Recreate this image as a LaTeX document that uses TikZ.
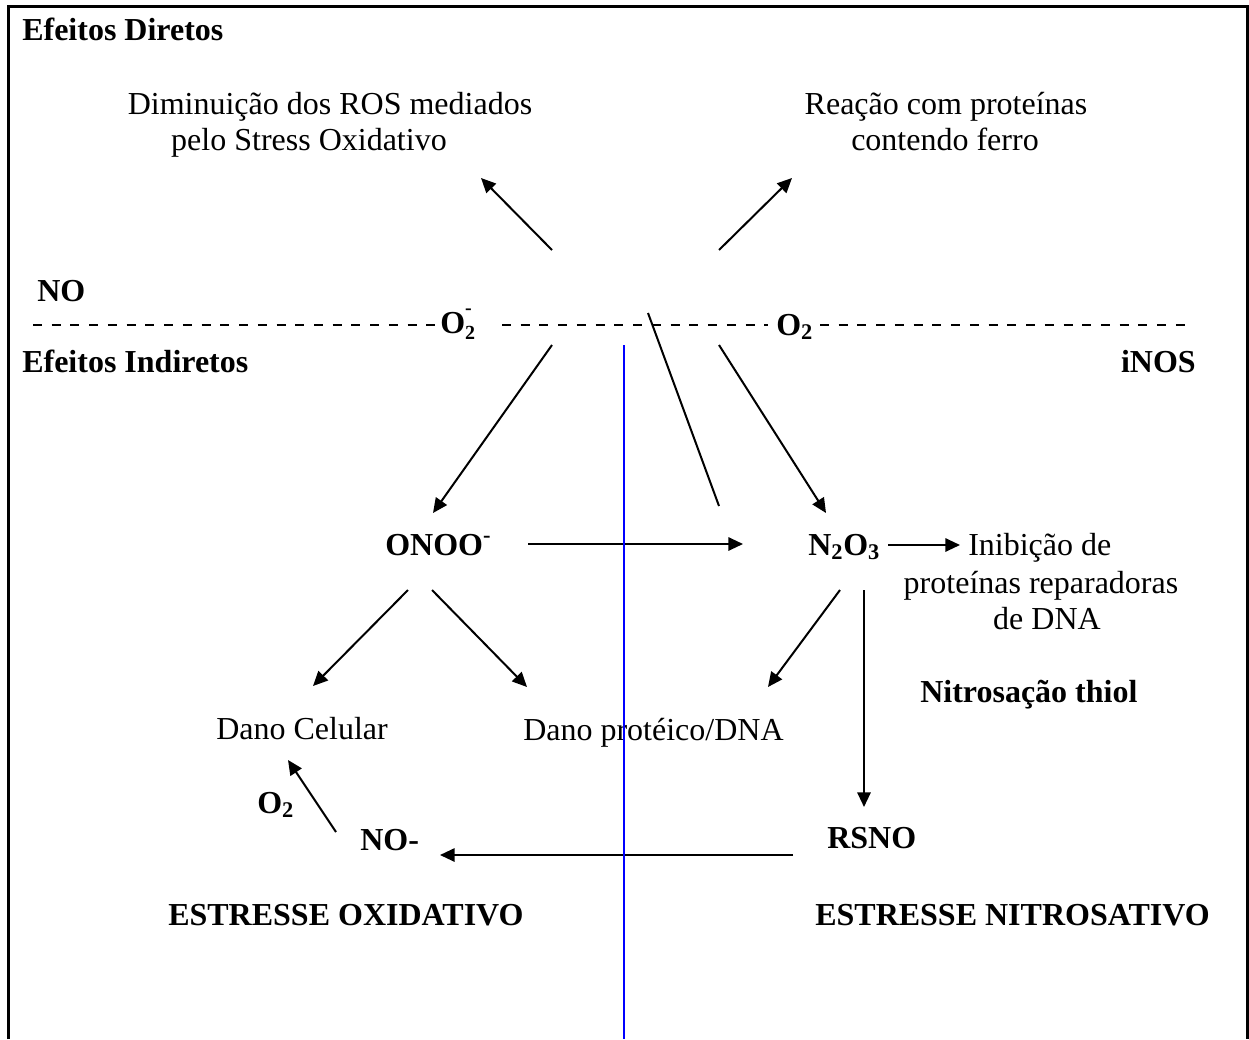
\documentclass[tikz,border=0pt]{standalone}
\usepackage{fontspec}
\setmainfont{Liberation Serif}
\usetikzlibrary{arrows.meta}
\newcommand{\supminus}{\rlap{\raisebox{1.25ex}{\fontsize{15}{15}\selectfont -}}}
\newcommand{\lowsub}[1]{\raisebox{-0.45ex}{\fontsize{15}{15}\selectfont #1}}
\begin{document}
\begin{tikzpicture}[x=0.75pt,y=-0.75pt,
  txt/.style={inner sep=0pt, font=\fontsize{24}{27.6}\selectfont},
  btxt/.style={inner sep=0pt, font=\fontsize{24}{27.6}\selectfont\bfseries},
  arr/.style={line width=1.5pt, -{Triangle[length=11pt,width=10pt]}},
  plainline/.style={line width=1.5pt},
  dashline/.style={line width=2.2pt, dash pattern=on 6.75pt off 7.3pt},
  frame/.style={line width=2pt},
  divider/.style={blue, line width=1.5pt}]
\useasboundingbox (0,0) rectangle (1249,1039);

% frame
\coordinate (fbl) at (8.5,1039);
\coordinate (ftl) at (8.5,6.5);
\coordinate (ftr) at (1247.5,6.5);
\coordinate (fbr) at (1247.5,1039);
\draw[frame] (fbl) -- (ftl) -- (ftr) -- (fbr);

% texts
\node[btxt, anchor=base west] (ed) at (22,40) {Efeitos Diretos};
\node[txt, anchor=base] (dim1) at (330,114) {Diminuição dos ROS mediados};
\node[txt, anchor=base] (dim2) at (309,150) {pelo Stress Oxidativo};
\node[txt, anchor=base] (rea1) at (946,114) {Reação com proteínas};
\node[txt, anchor=base] (rea2) at (945,150) {contendo ferro};
\node[btxt, anchor=base west] (no) at (37,301) {NO};
\node[btxt, anchor=base west] (o2m) at (440,333) {O\supminus\lowsub{2}};
\node[btxt, anchor=base west] (o2) at (776,335) {O\textsubscript{2}};
\node[btxt, anchor=base west] (ei) at (22,372) {Efeitos Indiretos};
\node[btxt, anchor=base east] (inos) at (1196,372) {iNOS};
\node[btxt, anchor=base west] (onoo) at (385,555) {ONOO\textsuperscript{-}};
\node[btxt, anchor=base west] (n2o3) at (808,555) {N\textsubscript{2}O\textsubscript{3}};
\node[txt, anchor=base west] (ini1) at (968,555) {Inibição de};
\node[txt, anchor=base] (ini2) at (1041,593) {proteínas reparadoras};
\node[txt, anchor=base] (ini3) at (1047,629) {de DNA};
\node[btxt, anchor=base west] (nit) at (920,702) {Nitrosação thiol};
\node[txt, anchor=base west] (dc) at (216,739) {Dano Celular};
\node[txt, anchor=base west] (dp) at (523,740) {Dano protéico/DNA};
\node[btxt, anchor=base west] (o2b) at (257,813) {O\textsubscript{2}};
\node[btxt, anchor=base west] (nom) at (360,850) {NO-};
\node[btxt, anchor=base west] (rsno) at (827,848) {RSNO};
\node[btxt, anchor=base west] (eo) at (168,925) {ESTRESSE OXIDATIVO};
\node[btxt, anchor=base west] (en) at (815,925) {ESTRESSE NITROSATIVO};

% dashed separator
\coordinate (d1s) at (33,325);
\coordinate (d1e) at (438,325);
\coordinate (d2s) at (502,325);
\coordinate (d2e) at (768,325);
\coordinate (d3s) at (820,325);
\coordinate (d3e) at (1186,325);
\draw[dashline] (d1s) -- (d1e);
\draw[dashline] (d2s) -- (d2e);
\draw[dashline] (d3s) -- (d3e);

% connectors
\coordinate (a1s) at (552,250); \coordinate (a1e) at (481,178);
\coordinate (a2s) at (719,250); \coordinate (a2e) at (792,178);
\coordinate (a3s) at (552,345); \coordinate (a3e) at (433,513);
\coordinate (l4s) at (648,313); \coordinate (l4e) at (719,506);
\coordinate (a5s) at (719,345); \coordinate (a5e) at (826,513);
\coordinate (a6s) at (528,544); \coordinate (a6e) at (743,544);
\coordinate (a7s) at (888,545); \coordinate (a7e) at (960,545);
\coordinate (a8s) at (408,590); \coordinate (a8e) at (313,686);
\coordinate (a9s) at (432,590); \coordinate (a9e) at (527,687);
\coordinate (a10s) at (840,590); \coordinate (a10e) at (768,687);
\coordinate (a11s) at (864,590); \coordinate (a11e) at (864,807);
\coordinate (a12s) at (793,855); \coordinate (a12e) at (440,855);
\coordinate (a13s) at (336,832); \coordinate (a13e) at (288,760);

\draw[arr] (a1s) -- (a1e);
\draw[arr] (a2s) -- (a2e);
\draw[arr] (a3s) -- (a3e);
\draw[plainline] (l4s) -- (l4e);
\draw[arr] (a5s) -- (a5e);
\draw[arr] (a6s) -- (a6e);
\draw[arr] (a7s) -- (a7e);
\draw[arr] (a8s) -- (a8e);
\draw[arr] (a9s) -- (a9e);
\draw[arr] (a10s) -- (a10e);
\draw[arr] (a11s) -- (a11e);
\draw[arr] (a12s) -- (a12e);
\draw[arr] (a13s) -- (a13e);

% blue divider
\coordinate (bt) at (624,345);
\coordinate (bb) at (624,1039);
\draw[divider] (bt) -- (bb);
\end{tikzpicture}
\end{document}
